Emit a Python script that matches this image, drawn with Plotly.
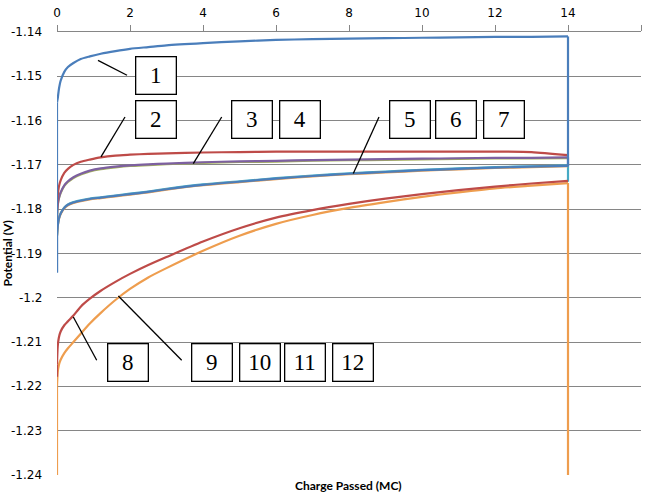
import plotly.graph_objects as go

# ---------------- data ----------------
X = [0, 0.02, 0.05, 0.1, 0.2, 0.3, 0.45, 0.65, 0.9, 1.2, 1.6, 2.0, 2.5, 3,
     4, 5, 6, 7, 8, 9, 10, 11, 12, 13, 14]

curve1 = [-1.1559, -1.1550, -1.1530, -1.1510, -1.1490, -1.1479, -1.1470, -1.1461,
          -1.1455, -1.1449, -1.1443, -1.1438, -1.1434, -1.1430, -1.1425, -1.1421,
          -1.1418, -1.1416, -1.1415, -1.1414, -1.1413, -1.1412, -1.1411, -1.1411, -1.1410]
curve1_start, curve1_end = -1.1943, -1.1703

curve2 = [-1.1803, -1.1770, -1.1750, -1.1735, -1.1718, -1.1709, -1.1700, -1.1693,
          -1.1688, -1.1683, -1.1679, -1.1677, -1.1675, -1.1674, -1.1672, -1.1671,
          -1.1670, -1.1670, -1.1670, -1.1670, -1.1670, -1.1670, -1.1670, -1.1671, -1.1678]

curve4 = [-1.1820, -1.1790, -1.1775, -1.1762, -1.1746, -1.1737, -1.1728, -1.1720,
          -1.1713, -1.1708, -1.1704, -1.1701, -1.1699, -1.1697, -1.1694, -1.1692,
          -1.1691, -1.1689, -1.1688, -1.1687, -1.1686, -1.1685, -1.1684, -1.1684, -1.1683]
curve3 = [v - 0.00015 for v in curve4]
curve4_end = -1.1703

curve7 = [-1.1860, -1.1838, -1.1822, -1.1810, -1.1797, -1.1790, -1.1785, -1.1781,
          -1.1777, -1.1774, -1.1770, -1.1766, -1.1761, -1.1755, -1.1745, -1.1738,
          -1.1731, -1.1725, -1.1720, -1.1716, -1.1712, -1.1709, -1.1706, -1.1704, -1.1702]
curve5 = [v + 0.0001 for v in curve7]
curve6 = [v - 0.0001 for v in curve7]
curve7_start, curve5_end = -1.1943, -1.1738

curve8 = [-1.2150, -1.2110, -1.2090, -1.2076, -1.2062, -1.2053, -1.2040, -1.2020,
          -1.2002, -1.1984, -1.1964, -1.1946, -1.1926, -1.1908, -1.1873, -1.1843,
          -1.1819, -1.1802, -1.1788, -1.1776, -1.1766, -1.1757, -1.1749, -1.1742, -1.1736]
curve8_start = -1.2178

curve12 = [-1.2200, -1.2168, -1.2152, -1.2140, -1.2125, -1.2114, -1.2100, -1.2081,
           -1.2058, -1.2034, -1.2005, -1.1980, -1.1954, -1.1933, -1.1894, -1.1860,
           -1.1833, -1.1813, -1.1797, -1.1784, -1.1772, -1.1762, -1.1753, -1.1747, -1.1741]
curve12_start, curve12_end = -1.2400, -1.2400

x_ticks = [0, 2, 4, 6, 8, 10, 12, 14, 16]
y_ticks = [-1.14, -1.15, -1.16, -1.17, -1.18, -1.19, -1.2, -1.21, -1.22, -1.23, -1.24]
y_ticktext = ["-1.14", "-1.15", "-1.16", "-1.17", "-1.18", "-1.19", "-1.2",
              "-1.21", "-1.22", "-1.23", "-1.24"]

# label boxes: (text, x, y)
box_labels = [("1", 2.712, -1.14977), ("2", 2.712, -1.15971),
              ("3", 5.356, -1.15971), ("4", 6.644, -1.15971),
              ("5", 9.671, -1.15971), ("6", 10.945, -1.15971), ("7", 12.233, -1.15971),
              ("8", 1.932, -1.21467), ("9", 4.260, -1.21467), ("10", 5.548, -1.21467),
              ("11", 6.808, -1.21467), ("12", 8.096, -1.21467)]
# leader lines: (x0, y0, x1, y1)
leaders = [(1.123, -1.14639, 1.918, -1.14977),
           (1.205, -1.16820, 1.863, -1.15919),
           (3.734, -1.16971, 4.512, -1.15919),
           (8.118, -1.17196, 8.822, -1.15919),
           (0.447, -1.20433, 1.088, -1.21411),
           (1.680, -1.19960, 3.416, -1.21411)]

BLUE, RED, OLIVE, PURPLE, AQUA, ORANGE = "#4A7EBB", "#BE4B48", "#A5B35E", "#7D60A0", "#46AAC5", "#EE9D4E"
LW = 2.2

fig = go.Figure()

def add(xs, ys, color, smooth=True):
    line = dict(color=color, width=LW)
    if smooth:
        line.update(shape="spline", smoothing=0.7)
    fig.add_trace(go.Scatter(x=xs, y=ys, mode="lines", line=line,
                             showlegend=False, hoverinfo="skip"))

def add_curve(ys, color, start=None, end=None):
    # vertical jumps at the start / end of the run drawn as straight segments
    if start is not None:
        add([X[0], X[0]], [start, ys[0]], color, smooth=False)
    if end is not None:
        add([X[-1], X[-1]], [ys[-1], end], color, smooth=False)
    add(X, ys, color)

# 5-7 group (aqua / orange underneath, blue on top)
add_curve(curve5, AQUA, end=curve5_end)
add_curve(curve6, ORANGE)
add_curve(curve7, BLUE, start=curve7_start)
# 3-4
add_curve(curve3, OLIVE)
add_curve(curve4, PURPLE, end=curve4_end)
# 2
add_curve(curve2, RED)
# 1
add_curve(curve1, BLUE, start=curve1_start, end=curve1_end)
# 9-12
add_curve(curve12, ORANGE, start=curve12_start, end=curve12_end)
# 8
add_curve(curve8, RED, start=curve8_start)

for (x0, y0, x1, y1) in leaders:
    fig.add_shape(type="line", xref="x", yref="y", x0=x0, y0=y0, x1=x1, y1=y1,
                  line=dict(color="black", width=1.3))

for (t, bx, by) in box_labels:
    fig.add_annotation(x=bx, y=by, xref="x", yref="y", text=t, showarrow=False,
                       width=39, height=36, borderpad=0, borderwidth=1.3,
                       bordercolor="black", bgcolor="white",
                       font=dict(family="Liberation Serif", size=23, color="black"),
                       xanchor="center", yanchor="middle", valign="middle")

# y tick labels (right-aligned, 14 px left of the plot area)
for v, t in zip(y_ticks, y_ticktext):
    fig.add_annotation(x=0, y=v, xref="paper", yref="y", text=t, showarrow=False,
                       xanchor="right", yanchor="middle", xshift=-13,
                       font=dict(family="DejaVu Sans", size=12, color="black"))

fig.add_annotation(x=0.5, y=0, xref="paper", yref="paper",
                   text="<b>Charge Passed (MC)</b>", showarrow=False,
                   xanchor="center", yanchor="middle", xshift=(348.5 - 57) - 292, yshift=-(485.7 - 475),
                   font=dict(family="Lato", size=12, color="black"))
fig.add_annotation(x=0, y=0.5, xref="paper", yref="paper",
                   text="<b>Potential (V)</b>", showarrow=False, textangle=-90,
                   xanchor="center", yanchor="middle", xshift=7 - 57, yshift=0,
                   font=dict(family="Lato", size=12, color="black"))

fig.update_layout(
    width=648, height=498,
    margin=dict(l=57, r=7, t=32, b=23),
    paper_bgcolor="white", plot_bgcolor="white",
    xaxis=dict(range=[0, 16], side="top", tickvals=x_ticks, ticks="outside",
               ticklen=6, tickcolor="#868686", showline=True, linecolor="#868686",
               linewidth=1, showgrid=False, zeroline=False, ticklabelstandoff=3,
               automargin=False,
               tickfont=dict(family="DejaVu Sans", size=12, color="black")),
    yaxis=dict(range=[-1.24, -1.14], tickvals=y_ticks, showticklabels=False,
               ticks="", showline=False, showgrid=True, gridcolor="#868686",
               gridwidth=1, zeroline=False, automargin=False),
)

fig.write_html("out.html")
